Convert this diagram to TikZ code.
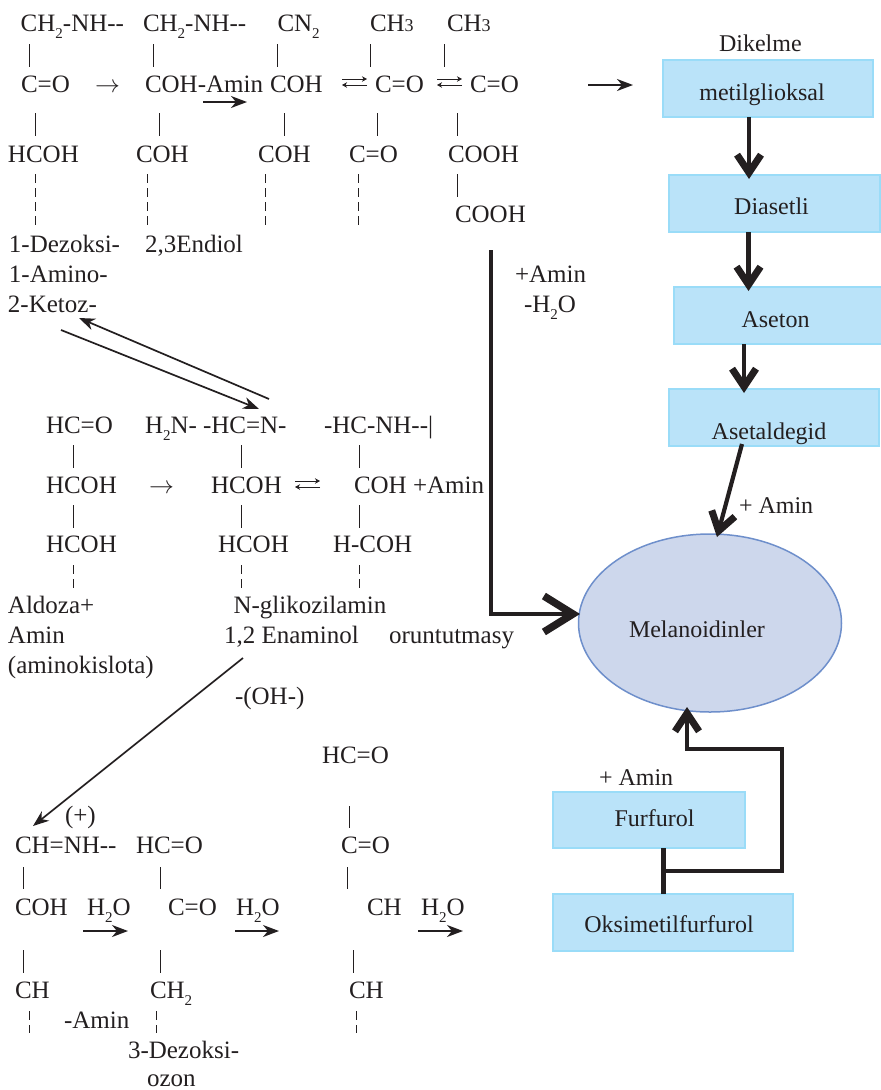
\documentclass[tikz,border=0pt]{standalone}
\usepackage{fontspec}
\setmainfont{Liberation Serif}
\usetikzlibrary{arrows.meta}
\definecolor{ink}{HTML}{231F20}
\definecolor{boxfill}{HTML}{BAE3F9}
\definecolor{boxline}{HTML}{9ADCF8}
\definecolor{ellfill}{HTML}{CDD7EC}
\definecolor{ellline}{HTML}{6E8FCB}
\newcount\bondno
\newcommand{\subt}{\raisebox{-7pt}{\fontsize{15}{15}\selectfont 2}}
\newcommand{\chthree}{CH{\fontsize{18}{18}\selectfont 3}}
\newcommand{\tx}[4]{\node[txt] (#1) at (#2,-#3) {#4};}
\newcommand{\rtx}[4]{\node[txt,font=\fontsize{24}{28}\selectfont] (#1) at (#2,-#3) {#4};}
\newcommand{\bond}[3]{\global\advance\bondno by 1
  \coordinate (b\the\bondno t) at (#1,-#2);
  \coordinate (b\the\bondno b) at (#1,-#3);
  \draw[bondline] (b\the\bondno t) -- (b\the\bondno b);}
\newcommand{\dbond}[3]{\global\advance\bondno by 1
  \coordinate (b\the\bondno t) at (#1,-#2);
  \coordinate (b\the\bondno b) at (#1,-#3);
  \draw[bondline,dash pattern=on 9pt off 5pt] (b\the\bondno t) -- (b\the\bondno b);}
\newcommand{\eqm}[3]{%
  \coordinate (#1a) at (#2,-#3+3);
  \coordinate (#1b) at (#2+25,-#3+3);
  \coordinate (#1c) at (#2+25,-#3-3);
  \coordinate (#1d) at (#2,-#3-3);
  \draw[bondline,-{Stealth[length=5pt,width=5.5pt,inset=1.5pt]}] (#1a) -- (#1b);
  \draw[bondline,-{Stealth[length=5pt,width=5.5pt,inset=1.5pt]}] (#1c) -- (#1d);}
\tikzset{
  x=1pt,y=1pt,
  txt/.style={anchor=base west,inner sep=0pt,outer sep=0pt,text=ink,font=\fontsize{25}{29}\selectfont},
  bondline/.style={draw=ink,line width=0.8pt},
  thinarrow/.style={draw=ink,line width=1.7pt,-{Stealth[length=16pt,width=12pt,inset=5pt]}},
  heavy/.style={draw=ink,line width=4.2pt,line join=miter},
  chev/.style={-{Straight Barb[length=18pt,width=24pt,line width=7pt]}},
  chevbig/.style={-{Straight Barb[length=29pt,width=36pt,line width=7.5pt]}},
  flowbox/.style={draw=boxline,fill=boxfill,line width=1.2pt,inner sep=0pt,outer sep=0pt,text=ink,
    text height=0pt,text depth=0pt,font=\fontsize{24}{28}\selectfont},
}
\begin{document}
\begin{tikzpicture}
\useasboundingbox (0,0) rectangle (881,-1090);
% top structures
\tx{t1}{20.7}{31}{CH\subt-NH-{}-}
\tx{t2}{143}{31}{CH\subt-NH-{}-}
\tx{t3}{277.5}{31}{CN\subt}
\tx{t4}{370}{31}{\chthree}
\tx{t5}{447}{31}{\chthree}
\tx{m1}{21}{92}{C=O}
\tx{m2}{95}{92}{\(\rightarrow\)}
\tx{m3}{145}{92}{COH-Amin}
\tx{m4}{270}{92}{COH}
\eqm{eqa}{342}{82}
\tx{m5}{375}{92}{C=O}
\eqm{eqb}{437}{82}
\tx{m6}{470}{92}{C=O}
\tx{r1}{8}{162}{HCOH}
\tx{r2}{136}{162}{COH}
\tx{r3}{258}{162}{COH}
\tx{r4}{349}{162}{C=O}
\tx{r5}{448}{162}{COOH}
\tx{r6}{455}{222}{COOH}
\tx{n1}{9}{252}{1-Dezoksi-}
\tx{n2}{145}{252}{2,3Endiol}
\tx{n3}{9}{282}{1-Amino-}
\tx{n4}{8}{312}{2-Ketoz-}
\tx{pa}{515}{282}{+Amin}
\tx{pb}{524}{312}{-H\subt O}
\bond{29}{44}{67}\bond{153}{44}{67}\bond{277.5}{44}{67}\bond{370.5}{44}{67}\bond{444.5}{44}{67}
\bond{35.5}{113}{136}\bond{159.5}{113}{136}\bond{284}{113}{136}\bond{377}{113}{136}\bond{457}{113}{136}
\dbond{35.5}{174}{227}\dbond{147}{174}{227}\dbond{265}{174}{227}\dbond{358}{174}{227}
\bond{457}{174}{197}
% middle structures
\tx{a1}{46}{433}{HC=O}
\tx{a2}{145}{433}{H\subt N-}
\tx{a3}{203}{433}{-HC=N-}
\tx{a4}{324}{433}{-HC-NH-{}-|}
\tx{c1}{46}{493}{HCOH}
\tx{c2}{149}{493}{\(\rightarrow\)}
\tx{c3}{211}{493}{HCOH}
\eqm{eqc}{295}{484}
\tx{c4}{354}{493}{COH}
\tx{c5}{413}{493}{+Amin}
\tx{d1}{46}{552}{HCOH}
\tx{d2}{218}{552}{HCOH}
\tx{d3}{333}{552}{H-COH}
\tx{e1}{8}{613}{Aldoza+}
\tx{e2}{8}{643}{Amin}
\tx{e3}{8}{673}{(aminokislota)}
\tx{f1}{233.5}{613}{N-glikozilamin}
\tx{f2}{224}{643}{1,2 Enaminol}
\tx{f3}{389}{643}{oruntutmasy}
\tx{f4}{235}{704}{-(OH-)}
\bond{73}{445}{468}\bond{241.5}{445}{468}\bond{359.5}{445}{468}
\bond{73}{505}{528}\bond{241.5}{505}{528}\bond{359.5}{505}{528}
\dbond{73}{565}{588}\dbond{241.5}{565}{588}\dbond{359.5}{565}{588}
% bottom structures
\tx{g1}{322}{763}{HC=O}
\tx{g2}{65}{823}{(+)}
\tx{h1}{15}{853}{CH=NH-{}-}
\tx{h2}{136}{853}{HC=O}
\tx{h3}{341}{853}{C=O}
\tx{i1}{15}{915}{COH}
\tx{i2}{87}{915}{H\subt O}
\tx{i3}{168}{915}{C=O}
\tx{i4}{236}{915}{H\subt O}
\tx{i5}{367}{915}{CH}
\tx{i6}{421}{915}{H\subt O}
\tx{j1}{15}{998}{CH}
\tx{j2}{150}{998}{CH\subt}
\tx{j3}{349}{998}{CH}
\tx{k1}{64}{1028}{-Amin}
\tx{k2}{128}{1058}{3-Dezoksi-}
\tx{k3}{147}{1086}{ozon}
\bond{349}{806}{828}
\bond{23}{867}{889}\bond{160}{867}{889}\bond{347}{867}{889}
\bond{23}{950}{973}\bond{160}{950}{973}\bond{353}{950}{973}
\dbond{29.5}{1011}{1033}\dbond{156.5}{1011}{1033}\dbond{356}{1011}{1033}
% boxes
\node[flowbox,minimum width=210pt,minimum height=57pt] (metil) at (768,-88.5) {\raisebox{-11.5pt}{\hspace*{-12pt}metilglioksal}};
\node[flowbox,minimum width=211pt,minimum height=57pt] (dia) at (774.5,-203.5) {\raisebox{-10.5pt}{\hspace*{-6pt}Diasetli}};
\node[flowbox,minimum width=211pt,minimum height=57pt] (ase) at (779.5,-315.5) {\raisebox{-11.5pt}{\hspace*{-8pt}Aseton}};
\node[flowbox,minimum width=210pt,minimum height=57pt] (ald) at (774,-417.5) {\raisebox{-21.5pt}{\hspace*{-10pt}Asetaldegid}};
\node[flowbox,minimum width=192pt,minimum height=56pt] (fur) at (649,-820) {\raisebox{-6pt}{\hspace*{11pt}Furfurol}};
\node[flowbox,minimum width=240pt,minimum height=57pt] (oks) at (673,-922.5) {\raisebox{-9.5pt}{\hspace*{-8pt}Oksimetilfurfurol}};
\path[draw=ellline,fill=ellfill,line width=1.5pt] (710,-623) ellipse [x radius=131.5,y radius=89];
\rtx{mel}{629}{637}{Melanoidinler}
\rtx{dik}{719}{51}{Dikelme}
\rtx{amr}{739}{513}{+ Amin}
\rtx{aml}{599}{785}{+ Amin}
% named ends
\coordinate (ketA) at (269,-399);
\coordinate (ketB) at (79,-318);
\coordinate (ketC) at (61,-330);
\coordinate (ketD) at (259,-409);
\coordinate (enA) at (243,-658);
\coordinate (enB) at (33,-826);
\coordinate (amA) at (203,-102);
\coordinate (amB) at (247,-102);
\coordinate (topA) at (588,-85);
\coordinate (topB) at (633,-85);
\coordinate (w1a) at (83,-931);\coordinate (w1b) at (128,-931);
\coordinate (w2a) at (235,-931);\coordinate (w2b) at (279,-931);
\coordinate (w3a) at (418,-931);\coordinate (w3b) at (463,-931);
\coordinate (hvA) at (491,-250);
\coordinate (hvB) at (580,-614);
\coordinate (x1) at (749,0);\coordinate (x2) at (748.5,0);\coordinate (x3) at (744,0);
\coordinate (tipD) at (749,-179);\coordinate (tipA) at (748.5,-291);\coordinate (tipL) at (744,-393);
\coordinate (ldA) at (742,-444);\coordinate (ldB) at (717,-537);
\coordinate (stem) at (663.5,-871);
\coordinate (rt) at (782,-749);
\coordinate (up) at (687,-707);
% thin arrows
\draw[thinarrow] (ketA) -- (ketB);
\draw[thinarrow] (ketC) -- (ketD);
\draw[thinarrow] (enA) -- (enB);
\draw[thinarrow] (amA) -- (amB);
\draw[thinarrow] (topA) -- (topB);
\draw[thinarrow] (w1a) -- (w1b);
\draw[thinarrow] (w2a) -- (w2b);
\draw[thinarrow] (w3a) -- (w3b);
% heavy arrows
\draw[heavy,chevbig] (hvA) |- (hvB);
\draw[heavy,chev] (x1 |- metil.south) -- (tipD);
\draw[heavy,chev] (x2 |- dia.south) -- (tipA);
\draw[heavy,chev] (x3 |- ase.south) -- (tipL);
\draw[heavy,chev] (ldA) -- (ldB);
\draw[heavy] (stem |- fur.south) -- (stem |- oks.north);
\draw[heavy,chev] (stem) -| (rt) -| (up);
\end{tikzpicture}
\end{document}
